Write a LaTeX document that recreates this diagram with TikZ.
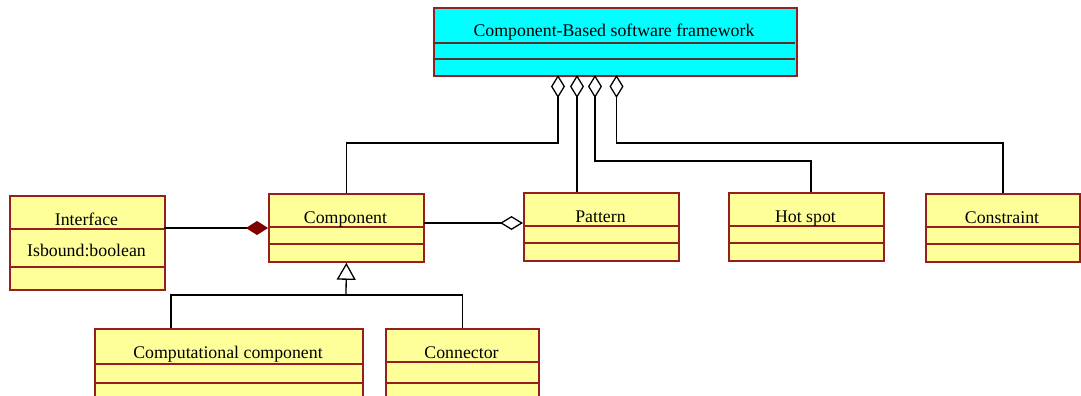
\documentclass[tikz,border=0pt]{standalone}
\usepackage{fontspec}
\setmainfont{Liberation Serif}
\usetikzlibrary{arrows.meta,calc}

\definecolor{clsborder}{RGB}{150,30,30}
\definecolor{clsfill}{RGB}{255,255,153}
\definecolor{fwfill}{RGB}{0,255,255}
\definecolor{fwdiv}{RGB}{85,50,50}
\definecolor{compfill}{RGB}{128,0,0}

\tikzset{
  cls/.style={draw=clsborder, line width=1.8pt, fill=clsfill, inner sep=0pt,
              anchor=north west, minimum width=155pt, minimum height=68pt},
  fwbox/.style={cls, fill=fwfill, minimum width=363pt, minimum height=68pt},
  divider/.style={draw=clsborder, line width=1.6pt},
  fwdivider/.style={draw=fwdiv, line width=1.6pt},
  title/.style={font=\fontsize{17.8}{20}\selectfont, inner sep=0pt, anchor=base},
  link/.style={draw=black, line width=1.3pt},
  aggr/.style={link, -{Diamond[open, length=23pt, width=14pt, line width=1.3pt]}},
  compo/.style={link, -{Diamond[fill=compfill, color=compfill, length=22pt, width=14pt]}},
  inherit/.style={link, -{Triangle[open, length=17pt, width=19pt, line width=1.3pt]}}
}

\begin{document}
\begin{tikzpicture}[x=1pt,y=-1pt]
\useasboundingbox[fill=white] (0,0) rectangle (1081,396);

% framework class
\node[fwbox] (fw) at (433,7) {};
\draw[fwdivider] ($(fw.north west)+(0,36)$) -- ($(fw.north east)+(-3,36)$);
\draw[fwdivider] ($(fw.north west)+(0,52)$) -- ($(fw.north east)+(-3,52)$);
\node[title] (fw-t) at (614,36.5) {Component-Based software framework};

% Interface
\node[cls, minimum height=94pt] (intf) at (9,195) {};
\draw[divider] ($(intf.north west)+(0,34)$) -- ($(intf.north east)+(0,34)$);
\draw[divider] ($(intf.north west)+(0,72)$) -- ($(intf.north east)+(0,72)$);
\node[title] (intf-t) at (86.5,225) {Interface};
\node[title] (intf-a) at (86.5,256) {Isbound:boolean};

% Component
\node[cls] (comp) at (268,193) {};
\draw[divider] ($(comp.north west)+(0,34)$) -- ($(comp.north east)+(0,34)$);
\draw[divider] ($(comp.north west)+(0,51)$) -- ($(comp.north east)+(0,51)$);
\node[title] (comp-t) at (345.5,223) {Component};

% Pattern
\node[cls] (pat) at (523,192) {};
\draw[divider] ($(pat.north west)+(0,34)$) -- ($(pat.north east)+(0,34)$);
\draw[divider] ($(pat.north west)+(0,51)$) -- ($(pat.north east)+(0,51)$);
\node[title] (pat-t) at (600.5,222) {Pattern};

% Hot spot
\node[cls] (hot) at (728,192) {};
\draw[divider] ($(hot.north west)+(0,34)$) -- ($(hot.north east)+(0,34)$);
\draw[divider] ($(hot.north west)+(0,51)$) -- ($(hot.north east)+(0,51)$);
\node[title] (hot-t) at (805.5,222) {Hot spot};

% Constraint
\node[cls, minimum width=154pt] (cons) at (925,193) {};
\draw[divider] ($(cons.north west)+(0,34)$) -- ($(cons.north east)+(0,34)$);
\draw[divider] ($(cons.north west)+(0,51)$) -- ($(cons.north east)+(0,51)$);
\node[title] (cons-t) at (1002,223) {Constraint};

% Computational component
\node[cls, minimum width=268pt, minimum height=74pt] (cc) at (94,328) {};
\draw[divider] ($(cc.north west)+(0,36)$) -- ($(cc.north east)+(0,36)$);
\draw[divider] ($(cc.north west)+(0,55)$) -- ($(cc.north east)+(0,55)$);
\node[title] (cc-t) at (228,358) {Computational component};

% Connector
\node[cls, minimum width=153pt, minimum height=74pt] (conn) at (385,328) {};
\draw[divider] ($(conn.north west)+(0,34)$) -- ($(conn.north east)+(0,34)$);
\draw[divider] ($(conn.north west)+(0,55)$) -- ($(conn.north east)+(0,55)$);
\node[title] (conn-t) at (461.5,358) {Connector};

% attachment points
\coordinate (fw1) at (558,75);
\coordinate (fw2) at (577,75);
\coordinate (fw3) at (595,75);
\coordinate (fw4) at (616.5,75);
\coordinate (k1) at (558,143);
\coordinate (k3) at (595,161);
\coordinate (k4) at (616.5,143);
\coordinate (pat-top) at (577,192);
\coordinate (hot-top) at (811,192);
\coordinate (cons-top) at (1003,193);
\coordinate (intf-r) at (164,228);
\coordinate (comp-l) at (268,228);
\coordinate (comp-r) at (424,223);
\coordinate (pat-l) at (523,223);
\coordinate (gj) at (346,295);
\coordinate (cc-top) at (171,328);

% aggregations into the framework
\draw[aggr] (comp.north) |- (k1) -- (fw1);
\draw[aggr] (pat-top) -- (fw2);
\draw[aggr] (hot-top) |- (k3) -- (fw3);
\draw[aggr] (cons-top) |- (k4) -- (fw4);

% Interface composed into Component
\draw[compo] (intf-r) -- (comp-l);
% Component aggregated into Pattern
\draw[aggr] (comp-r) -- (pat-l);

% generalization
\draw[inherit] (gj) -- (comp.south);
\draw[link] (cc-top) |- (gj) -| (conn.north);
\end{tikzpicture}
\end{document}
